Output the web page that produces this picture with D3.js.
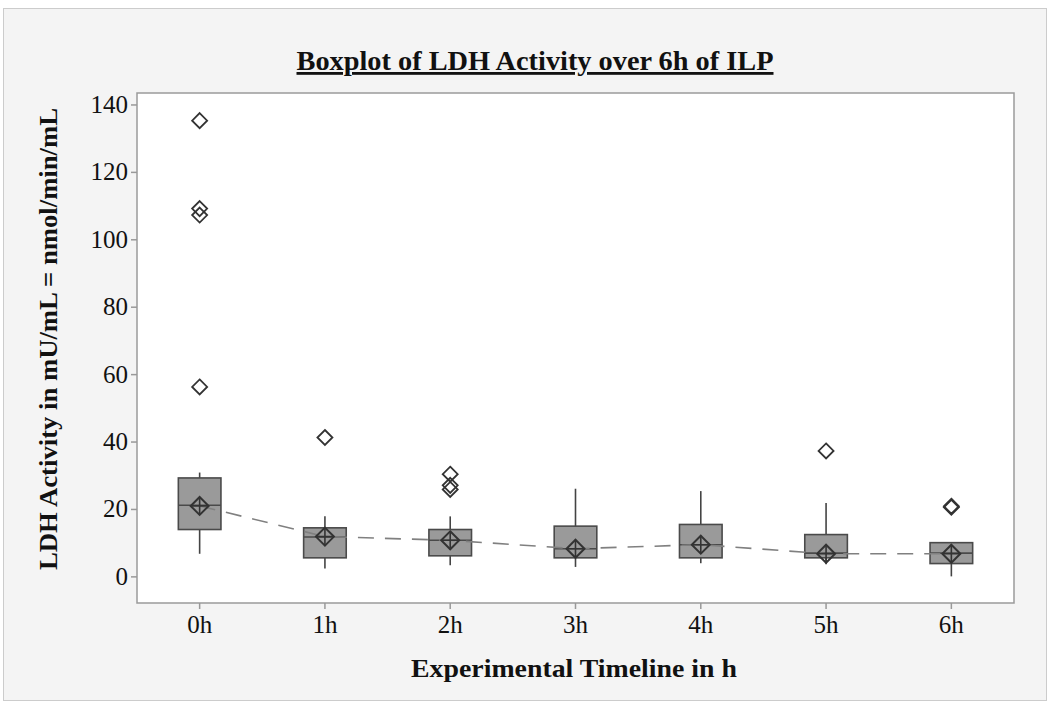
<!DOCTYPE html>
<html>
<head>
<meta charset="utf-8">
<script src="https://cdn.jsdelivr.net/npm/d3@7"></script>
<style>
  body { margin: 0; background: #fff; }
  text { font-family: 'Liberation Serif', 'DejaVu Serif', serif; fill: #111; }
</style>
</head>
<body>
<div id="chart"></div>
<script>
// values
var categories = ['0h', '1h', '2h', '3h', '4h', '5h', '6h'];
var whiskerLow  = [6.7, 2.3, 3.3, 2.8, 3.9, 3.6, 0.0];
var q1          = [13.9, 5.5, 6.1, 5.5, 5.5, 5.5, 3.8];
var medians     = [21.1, 11.7, 10.7, 8.2, 9.4, 6.9, 6.9];
var q3          = [29.2, 14.4, 13.9, 14.9, 15.4, 12.4, 10.0];
var whiskerHigh = [30.8, 17.8, 17.8, 26.0, 25.3, 21.8, 10.0];
var means       = [20.9, 11.8, 10.7, 8.2, 9.4, 6.7, 6.7];
var outliers    = [[135.2, 109.1, 107.2, 56.2], [41.2], [30.3, 27.0, 25.8], [], [], [37.2], [20.5, 20.8]];
var yTicks = [0, 20, 40, 60, 80, 100, 120, 140];

var W = 1050, H = 705;
var plot = {left: 137, right: 1014, top: 93, bottom: 603};

var svg = d3.select('#chart').append('svg')
    .attr('width', W)
    .attr('height', H);

// grey panel
svg.append('rect')
    .attr('x', 3.5).attr('y', 8.5)
    .attr('width', 1043).attr('height', 692)
    .attr('fill', '#f4f4f4')
    .attr('stroke', '#cccccc');

let xScale = d3.scaleBand()
    .domain(categories)
    .range([plot.left, plot.right]);
let yScale = d3.scaleLinear()
    .domain([-7.9, 143.4])
    .range([plot.bottom, plot.top]);

let bw = xScale.bandwidth() * 0.34;
let cx = function(c) { return xScale(c) + xScale.bandwidth() / 2; };

// plot frame
svg.append('rect')
    .attr('x', plot.left).attr('y', plot.top)
    .attr('width', plot.right - plot.left)
    .attr('height', plot.bottom - plot.top)
    .attr('fill', '#fff')
    .attr('stroke', '#9a9a9a')
    .attr('stroke-width', 1.5);

// axes
let yaxis = d3.axisLeft(yScale).tickValues(yTicks).tickSize(6).tickPadding(3);
let gy = svg.append('g')
    .attr('transform', 'translate(' + plot.left + ',0)')
    .call(yaxis);
gy.select('.domain').remove();
gy.selectAll('line').attr('stroke', '#999').attr('stroke-width', 1.5);
gy.selectAll('text').style('font-size', '25px').attr('fill', '#111');

let xaxis = d3.axisBottom(xScale).tickSize(6).tickPadding(6);
let gx = svg.append('g')
    .attr('transform', 'translate(0,' + plot.bottom + ')')
    .call(xaxis);
gx.select('.domain').remove();
gx.selectAll('line').attr('stroke', '#999').attr('stroke-width', 1.5);
gx.selectAll('text').style('font-size', '25px').attr('fill', '#111');

// boxes
let data = categories.map(function(c, i) {
  return {c: c, lo: whiskerLow[i], q1: q1[i], med: medians[i], q3: q3[i],
          hi: whiskerHigh[i], mean: means[i], out: outliers[i]};
});

let g = svg.append('g');
g.selectAll('.whisker')
  .data(data)
  .enter().append('line')
    .attr('class', 'whisker')
    .attr('x1', d => cx(d.c)).attr('x2', d => cx(d.c))
    .attr('y1', d => yScale(d.lo)).attr('y2', d => yScale(d.hi))
    .attr('stroke', '#444').attr('stroke-width', 1.6);

g.selectAll('.box')
  .data(data)
  .enter().append('rect')
    .attr('class', 'box')
    .attr('x', d => cx(d.c) - bw / 2)
    .attr('width', bw)
    .attr('y', d => yScale(d.q3))
    .attr('height', d => yScale(d.q1) - yScale(d.q3))
    .attr('fill', '#9a9a9a')
    .attr('stroke', '#4a4a4a')
    .attr('stroke-width', 1.6);

g.selectAll('.median')
  .data(data)
  .enter().append('line')
    .attr('class', 'median')
    .attr('x1', d => cx(d.c) - bw / 2).attr('x2', d => cx(d.c) + bw / 2)
    .attr('y1', d => yScale(d.med)).attr('y2', d => yScale(d.med))
    .attr('stroke', '#4a4a4a').attr('stroke-width', 1.6);

// mean connect line
let line = d3.line()
    .x(d => cx(d.c))
    .y(d => yScale(d.mean));
g.append('path')
    .datum(data)
    .attr('d', line)
    .attr('fill', 'none')
    .attr('stroke', '#808080')
    .attr('stroke-width', 1.6)
    .attr('stroke-dasharray', '16,11');

// mean symbols: diamond with cross
let r = 9;
let meanG = g.selectAll('.mean')
  .data(data)
  .enter().append('g')
    .attr('class', 'mean')
    .attr('transform', d => 'translate(' + cx(d.c) + ',' + yScale(d.mean) + ')');
meanG.append('path')
    .attr('d', 'M0,' + (-r) + 'L' + r + ',0L0,' + r + 'L' + (-r) + ',0Z')
    .attr('fill', 'none').attr('stroke', '#333').attr('stroke-width', 2);
meanG.append('path')
    .attr('d', 'M0,' + (-r) + 'V' + r + 'M' + (-r) + ',0H' + r)
    .attr('stroke', '#333').attr('stroke-width', 1.6);

// outliers
let ro = 7.5;
let outs = [];
data.forEach(function(d) {
  d.out.forEach(function(v) { outs.push({c: d.c, v: v}); });
});
g.selectAll('.outlier')
  .data(outs)
  .enter().append('path')
    .attr('class', 'outlier')
    .attr('transform', d => 'translate(' + cx(d.c) + ',' + yScale(d.v) + ')')
    .attr('d', 'M0,' + (-ro) + 'L' + ro + ',0L0,' + ro + 'L' + (-ro) + ',0Z')
    .attr('fill', 'none').attr('stroke', '#333').attr('stroke-width', 1.8);

// titles
svg.append('text')
    .attr('x', 535).attr('y', 70)
    .attr('text-anchor', 'middle')
    .style('font-size', '28px')
    .style('font-weight', 'bold')
    .style('text-decoration', 'underline')
    .attr('textLength', 477)
    .attr('lengthAdjust', 'spacingAndGlyphs')
    .text('Boxplot of LDH Activity over 6h of ILP');

svg.append('text')
    .attr('transform', 'translate(57,339) rotate(-90)')
    .attr('text-anchor', 'middle')
    .style('font-size', '26px')
    .style('font-weight', 'bold')
    .attr('textLength', 462)
    .attr('lengthAdjust', 'spacingAndGlyphs')
    .text('LDH Activity in mU/mL = nmol/min/mL');

svg.append('text')
    .attr('x', 574).attr('y', 677)
    .attr('text-anchor', 'middle')
    .style('font-size', '26px')
    .style('font-weight', 'bold')
    .attr('textLength', 326)
    .attr('lengthAdjust', 'spacingAndGlyphs')
    .text('Experimental Timeline in h');
</script>
</body>
</html>
